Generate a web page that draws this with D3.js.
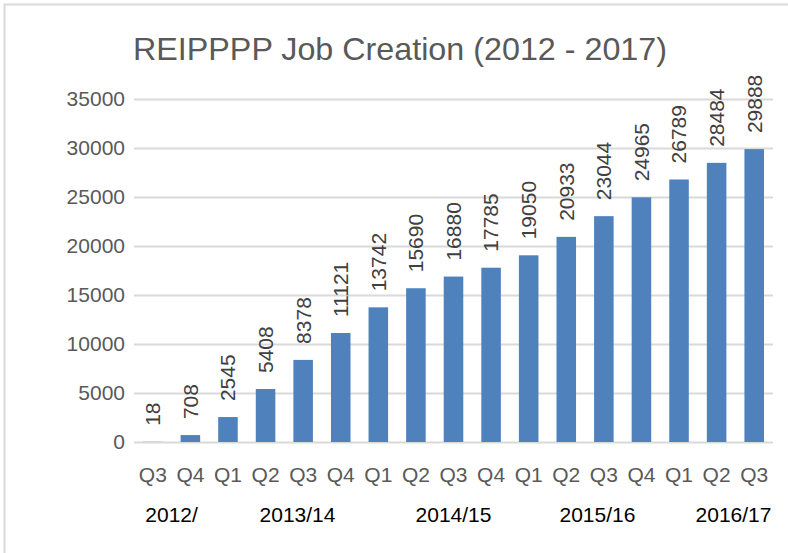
<!DOCTYPE html>
<html>
<head>
<meta charset="utf-8">
<script src="https://cdn.jsdelivr.net/npm/d3@7"></script>
<style>
  html, body { margin: 0; padding: 0; background: #fff; }
</style>
</head>
<body>
<div id="chart"></div>
<script>
const quarters = ['Q3', 'Q4', 'Q1', 'Q2', 'Q3', 'Q4', 'Q1', 'Q2', 'Q3',
  'Q4', 'Q1', 'Q2', 'Q3', 'Q4', 'Q1', 'Q2', 'Q3'];
const jobs = [18, 708, 2545, 5408, 8378, 11121, 13742, 15690, 16880,
  17785, 19050, 20933, 23044, 24965, 26789, 28484, 29888];
const yearLabels = ['2012/', '2013/14', '2014/15', '2015/16', '2016/17'];
// where each year label sits, in category units
const yearLabelAt = [0.5, 3.85, 8, 11.83, 15.45];
const yTicks = [0, 5000, 10000, 15000, 20000, 25000, 30000, 35000];
const title = 'REIPPPP Job Creation (2012 - 2017)';

const width = 788;
const height = 553;
const margins = {top: 99, right: 15, bottom: 111, left: 134};
const font = '"Liberation Sans", Arial, sans-serif';

const chartWidth = width - margins.left - margins.right;
const chartHeight = height - margins.top - margins.bottom;

const root = d3.select('#chart')
  .append('svg')
  .attr('width', width)
  .attr('height', height);

// chart frame, only top and left show in the picture
root.append('rect')
  .attr('x', 4.5)
  .attr('y', 4.5)
  .attr('width', width + 20)
  .attr('height', height + 20)
  .attr('fill', 'none')
  .attr('stroke', '#d9d9d9')
  .attr('stroke-width', 2);

root.append('text')
  .attr('x', 400)
  .attr('y', 60)
  .attr('text-anchor', 'middle')
  .attr('font-family', font)
  .attr('font-size', 32)
  .attr('fill', '#595959')
  .attr('textLength', 534)
  .attr('lengthAdjust', 'spacingAndGlyphs')
  .text(title);

const svg = root.append('g')
  .attr('transform', 'translate(' + margins.left + ',' + margins.top + ')');

const x = d3.scaleBand()
  .domain(d3.range(jobs.length))
  .range([0, chartWidth])
  .paddingInner(0.48)
  .paddingOuter(0.24);

const y = d3.scaleLinear()
  .domain([0, 35000])
  .range([chartHeight, 0]);

// grid lines
const grid = svg.append('g')
  .call(d3.axisLeft(y).tickValues(yTicks).tickSize(-chartWidth).tickFormat(''));
grid.select('.domain').remove();
grid.selectAll('.tick line').attr('stroke', '#d9d9d9').attr('stroke-width', 2);

// y labels
const yAxis = svg.append('g')
  .call(d3.axisLeft(y).tickValues(yTicks).tickSize(0).tickPadding(9).tickFormat(d3.format('d')));
yAxis.select('.domain').remove();
yAxis.selectAll('.tick text')
  .attr('font-family', font)
  .attr('font-size', 21)
  .attr('fill', '#595959');

// bars
svg.selectAll('.bar')
  .data(jobs)
  .join('rect')
  .attr('class', 'bar')
  .attr('x', (d, i) => x(i))
  .attr('y', (d) => y(d))
  .attr('width', x.bandwidth())
  .attr('height', (d) => chartHeight - y(d))
  .attr('fill', '#4f81bd');

// value labels, turned up
svg.selectAll('.val')
  .data(jobs)
  .join('text')
  .attr('class', 'val')
  .attr('transform', (d, i) =>
    `translate(${x(i) + x.bandwidth() / 2}, ${y(d) - 16}) rotate(-90)`)
  .attr('dy', '0.35em')
  .attr('font-family', font)
  .attr('font-size', 21)
  .attr('fill', '#404040')
  .text((d) => d);

// quarter labels
const xAxis = svg.append('g')
  .attr('transform', 'translate(0,' + chartHeight + ')')
  .call(d3.axisBottom(x).tickSize(0).tickPadding(25).tickFormat((i) => quarters[i]));
xAxis.select('.domain').remove();
xAxis.selectAll('.tick text')
  .attr('font-family', font)
  .attr('font-size', 21)
  .attr('fill', '#595959');

// financial years
const catCenter = (pos) =>
  x.step() * (x.paddingOuter() + pos) + x.bandwidth() / 2;

svg.selectAll('.year')
  .data(yearLabels)
  .join('text')
  .attr('class', 'year')
  .attr('x', (d, i) => catCenter(yearLabelAt[i]))
  .attr('y', chartHeight + 73)
  .attr('dy', '0.35em')
  .attr('text-anchor', 'middle')
  .attr('font-family', font)
  .attr('font-size', 21)
  .attr('fill', '#000')
  .text((d) => d);
</script>
</body>
</html>
